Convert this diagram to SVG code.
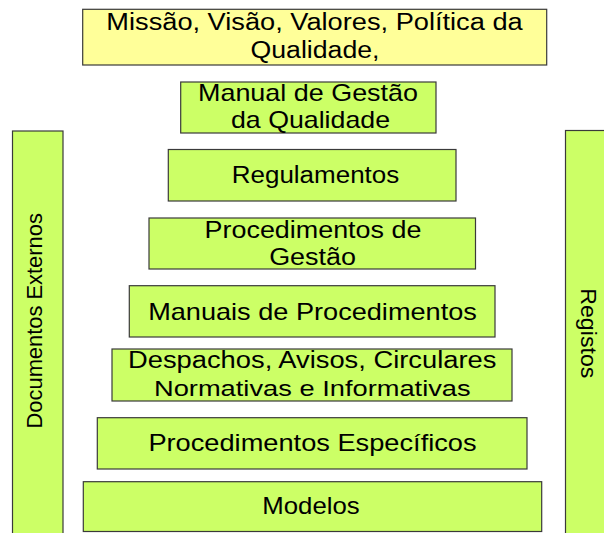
<svg xmlns="http://www.w3.org/2000/svg" width="604" height="533" viewBox="0 0 604 533">
<style>
.box{fill:#CCFF66;stroke:#3a3a3a;stroke-width:1.2}
.yel{fill:#FFFF99;stroke:#3a3a3a;stroke-width:1.2}
text{font-family:"Liberation Sans",Arial,sans-serif;font-size:23px;fill:#000;text-anchor:middle}
.v{font-size:22.5px}
</style>
<rect width="604" height="533" fill="#fff"/>
<g id="connectors"/>
<g id="missao">
<rect class="yel" x="82.7" y="9.3" width="464" height="55.7"/>
<text transform="translate(314.5,30) scale(1.183,1)">Missão, Visão, Valores, Política da</text>
<text transform="translate(315,57.5) scale(1.16,1)">Qualidade,</text>
</g>
<g id="manual">
<rect class="box" x="180.7" y="82" width="255.3" height="51"/>
<text transform="translate(308,100.5) scale(1.171,1)">Manual de Gestão</text>
<text transform="translate(310.5,127.5) scale(1.163,1)">da Qualidade</text>
</g>
<g id="regulamentos">
<rect class="box" x="168.3" y="149.5" width="287.7" height="51.5"/>
<text transform="translate(315.5,183.3) scale(1.13,1)">Regulamentos</text>
</g>
<g id="proc-gestao">
<rect class="box" x="149" y="218" width="326.5" height="51"/>
<text transform="translate(313,237.5) scale(1.17,1)">Procedimentos de</text>
<text transform="translate(312.5,265) scale(1.17,1)">Gestão</text>
</g>
<g id="manuais">
<rect class="box" x="129.3" y="285.7" width="365.7" height="51.3"/>
<text transform="translate(312.5,319.5) scale(1.18,1)">Manuais de Procedimentos</text>
</g>
<g id="despachos">
<rect class="box" x="112" y="349" width="400" height="52"/>
<text transform="translate(312.2,367.5) scale(1.188,1)">Despachos, Avisos, Circulares</text>
<text transform="translate(312.3,395.5) scale(1.186,1)">Normativas e Informativas</text>
</g>
<g id="proc-especificos">
<rect class="box" x="97.3" y="417.7" width="429.7" height="51.3"/>
<text transform="translate(312.5,450.7) scale(1.184,1)">Procedimentos Específicos</text>
</g>
<g id="modelos">
<rect class="box" x="83.3" y="481.7" width="458.4" height="49.8"/>
<text transform="translate(311,514.4) scale(1.121,1)">Modelos</text>
</g>
<g id="documentos-externos">
<rect class="box" x="12.5" y="131" width="50.5" height="410"/>
<text class="v" transform="translate(42,320.8) rotate(-90) scale(0.973,1)">Documentos Externos</text>
</g>
<g id="registos">
<rect class="box" x="565.5" y="130.5" width="50" height="410"/>
<text class="v" transform="translate(580.5,333.3) rotate(90) scale(1.03,1)">Registos</text>
</g>
</svg>
